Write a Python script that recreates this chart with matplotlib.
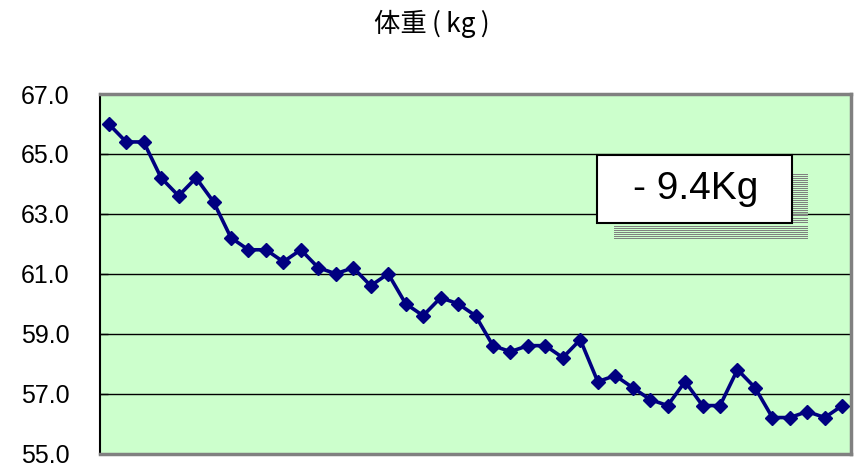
import matplotlib
matplotlib.use("Agg")
import matplotlib.pyplot as plt
import numpy as np

# 体重の記録 (kg)
weights = [66.0, 65.4, 65.4, 64.2, 63.6, 64.2, 63.4, 62.2, 61.8, 61.8,
           61.4, 61.8, 61.2, 61.0, 61.2, 60.6, 61.0, 60.0, 59.6, 60.2,
           60.0, 59.6, 58.6, 58.4, 58.6, 58.6, 58.2, 58.8, 57.4, 57.6,
           57.2, 56.8, 56.6, 57.4, 56.6, 56.6, 57.8, 57.2, 56.2, 56.2,
           56.4, 56.2, 56.6]
y_ticks = [55.0, 57.0, 59.0, 61.0, 63.0, 65.0, 67.0]
title = "体重\u2009(\u2009kg\u2009)"

loss = weights[0] - weights[-1]
loss_label = f"- {loss:.1f}Kg"

plt.rcParams['font.family'] = ['Liberation Sans', 'DejaVu Sans']

W, H = 863, 470
fig = plt.figure(figsize=(W / 100, H / 100), dpi=100)
ax = fig.add_axes([100 / W, 1 - 453.5 / H, 751 / W, 359.5 / H])
ax.set_facecolor('#CCFFCC')

x = np.arange(len(weights))
ax.plot(x, weights, color='#000080', lw=2.6, marker='D', ms=7.4,
        mec='#000080', mfc='#000080', zorder=3)

ax.set_xlim(-0.5, len(weights) - 0.5)
ax.set_ylim(y_ticks[0], y_ticks[-1])
ax.set_yticks(y_ticks)
ax.set_yticklabels([f"{t:.1f}" for t in y_ticks], fontsize=18)
ax.set_xticks([])
ax.tick_params(axis='y', direction='in', length=6, width=1, pad=22)
for t in y_ticks[1:-1]:
    ax.axhline(t, color='black', lw=1, zorder=1)

for side in ['top', 'right', 'bottom']:
    ax.spines[side].set_color('#808080')
    ax.spines[side].set_linewidth(2.5)
ax.spines['left'].set_color('black')
ax.spines['left'].set_linewidth(1.5)

# 減量ラベルの縞模様の影 (ピクセル単位で1行おきに線を引く)
def hline_px(x0, x1, row):
    yf = (H - row - 0.5) / H
    fig.add_artist(plt.Line2D([x0 / W, x1 / W], [yf, yf], transform=fig.transFigure,
                              color='#808080', lw=0.72, antialiased=False, zorder=4))

for row in range(173, 223, 2):
    hline_px(792, 807, row)
for row in range(225, 238, 2):
    hline_px(614, 807, row)

# 白い箱とラベル
bx0, bx1 = 597 / W, 792 / W
by0, by1 = 1 - 223 / H, 1 - 155 / H
fig.add_artist(plt.Rectangle((bx0, by0), bx1 - bx0, by1 - by0, transform=fig.transFigure,
                             facecolor='white', edgecolor='black', lw=1.5, zorder=5))
fig.text(696 / W, (by0 + by1) / 2, loss_label, ha='center', va='center',
         fontsize=28, zorder=6)

fig.text(432 / W, 1 - 24 / H, title, ha='center', va='center', fontsize=19,
         family=['Noto Sans CJK JP', 'DejaVu Sans'])

fig.savefig('out.png', dpi=100)
